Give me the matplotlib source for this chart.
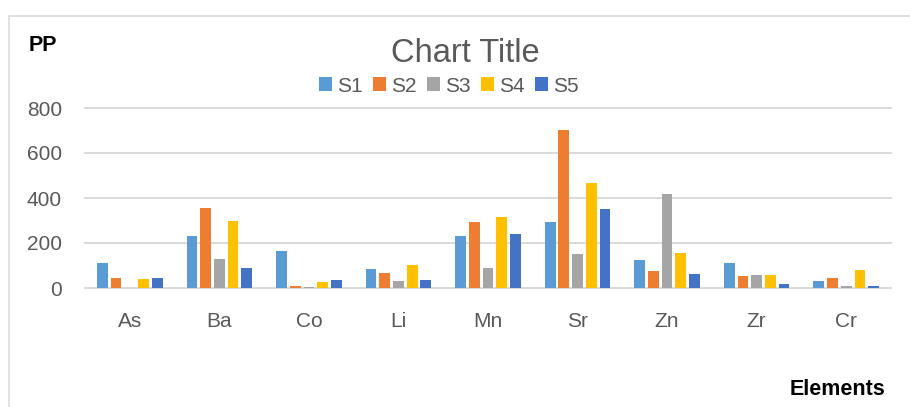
import matplotlib
matplotlib.use("Agg")
import matplotlib.pyplot as plt
from matplotlib.patches import Patch, Rectangle
import numpy as np

categories = ["As", "Ba", "Co", "Li", "Mn", "Sr", "Zn", "Zr", "Cr"]
series_names = ["S1", "S2", "S3", "S4", "S5"]
s1 = [110, 232, 164, 86, 230, 292, 123, 110, 32]
s2 = [43, 357, 9, 68, 295, 703, 77, 55, 43]
s3 = [2, 128, 6, 32, 89, 151, 418, 59, 9]
s4 = [41, 296, 28, 104, 317, 465, 157, 58, 80]
s5 = [43, 89, 37, 36, 239, 352, 62, 19, 8]
series_values = [s1, s2, s3, s4, s5]
colors = ["#5B9BD5", "#ED7D31", "#A5A5A5", "#FFC000", "#4472C4"]
yticks = [0, 200, 400, 600, 800]

plt.rcParams['font.family'] = ['Liberation Sans', 'DejaVu Sans']
TXT = "#595959"
GRID = "#D9D9D9"

W, H = 910, 407
fig = plt.figure(figsize=(W / 100, H / 100), dpi=100)

# chart border
fig.patches.append(Rectangle((8.5 / W, -0.1), 1.2, 1 - 16.5 / H + 0.1,
                             transform=fig.transFigure, fill=False,
                             edgecolor=GRID, linewidth=1.1, zorder=0))

ax = fig.add_axes([85 / W, 1 - 288 / H, 806 / W, 180 / H])
x = np.arange(len(categories))
pitch = 0.153
bw = 0.12
for i, (vals, c) in enumerate(zip(series_values, colors)):
    ax.bar(x + (i - 2) * pitch, vals, width=bw, color=c, zorder=3)

ax.set_xlim(-0.5, len(categories) - 0.5)
ax.set_ylim(0, 800)
ax.set_yticks(yticks)
ax.set_yticklabels([str(v) for v in yticks])
ax.set_xticks(x)
ax.set_xticklabels(categories)
for sp in ax.spines.values():
    sp.set_visible(False)
ax.tick_params(axis='both', length=0, labelsize=15, labelcolor=TXT)
ax.tick_params(axis='y', pad=16.5)
ax.tick_params(axis='x', pad=17)
ax.yaxis.grid(True, color=GRID, linewidth=1.4, zorder=0)
for gl in ax.get_ygridlines():
    gl.set_clip_on(False)
ax.set_axisbelow(True)

fig.text(465 / W, 1 - 54 / H, "Chart Title", ha='center', va='center',
         fontsize=23.5, color=TXT)
fig.text(29 / W, 1 - 45.5 / H, "PP", ha='left', va='center',
         fontsize=15.5, fontweight='bold', color='black')
fig.text(885 / W, 1 - 389.5 / H, "Elements", ha='right', va='center',
         fontsize=15.5, fontweight='bold', color='black')

handles = [Patch(facecolor=c, edgecolor='none') for c in colors]
fig.legend(handles, series_names, loc='center', bbox_to_anchor=(449 / W, 1 - 86 / H),
           ncol=5, frameon=False, fontsize=15, labelcolor=TXT,
           handlelength=0.62, handleheight=0.62, handletextpad=0.25,
           columnspacing=0.5, borderpad=0, borderaxespad=0)

fig.savefig("out.png", dpi=100, facecolor='white')
